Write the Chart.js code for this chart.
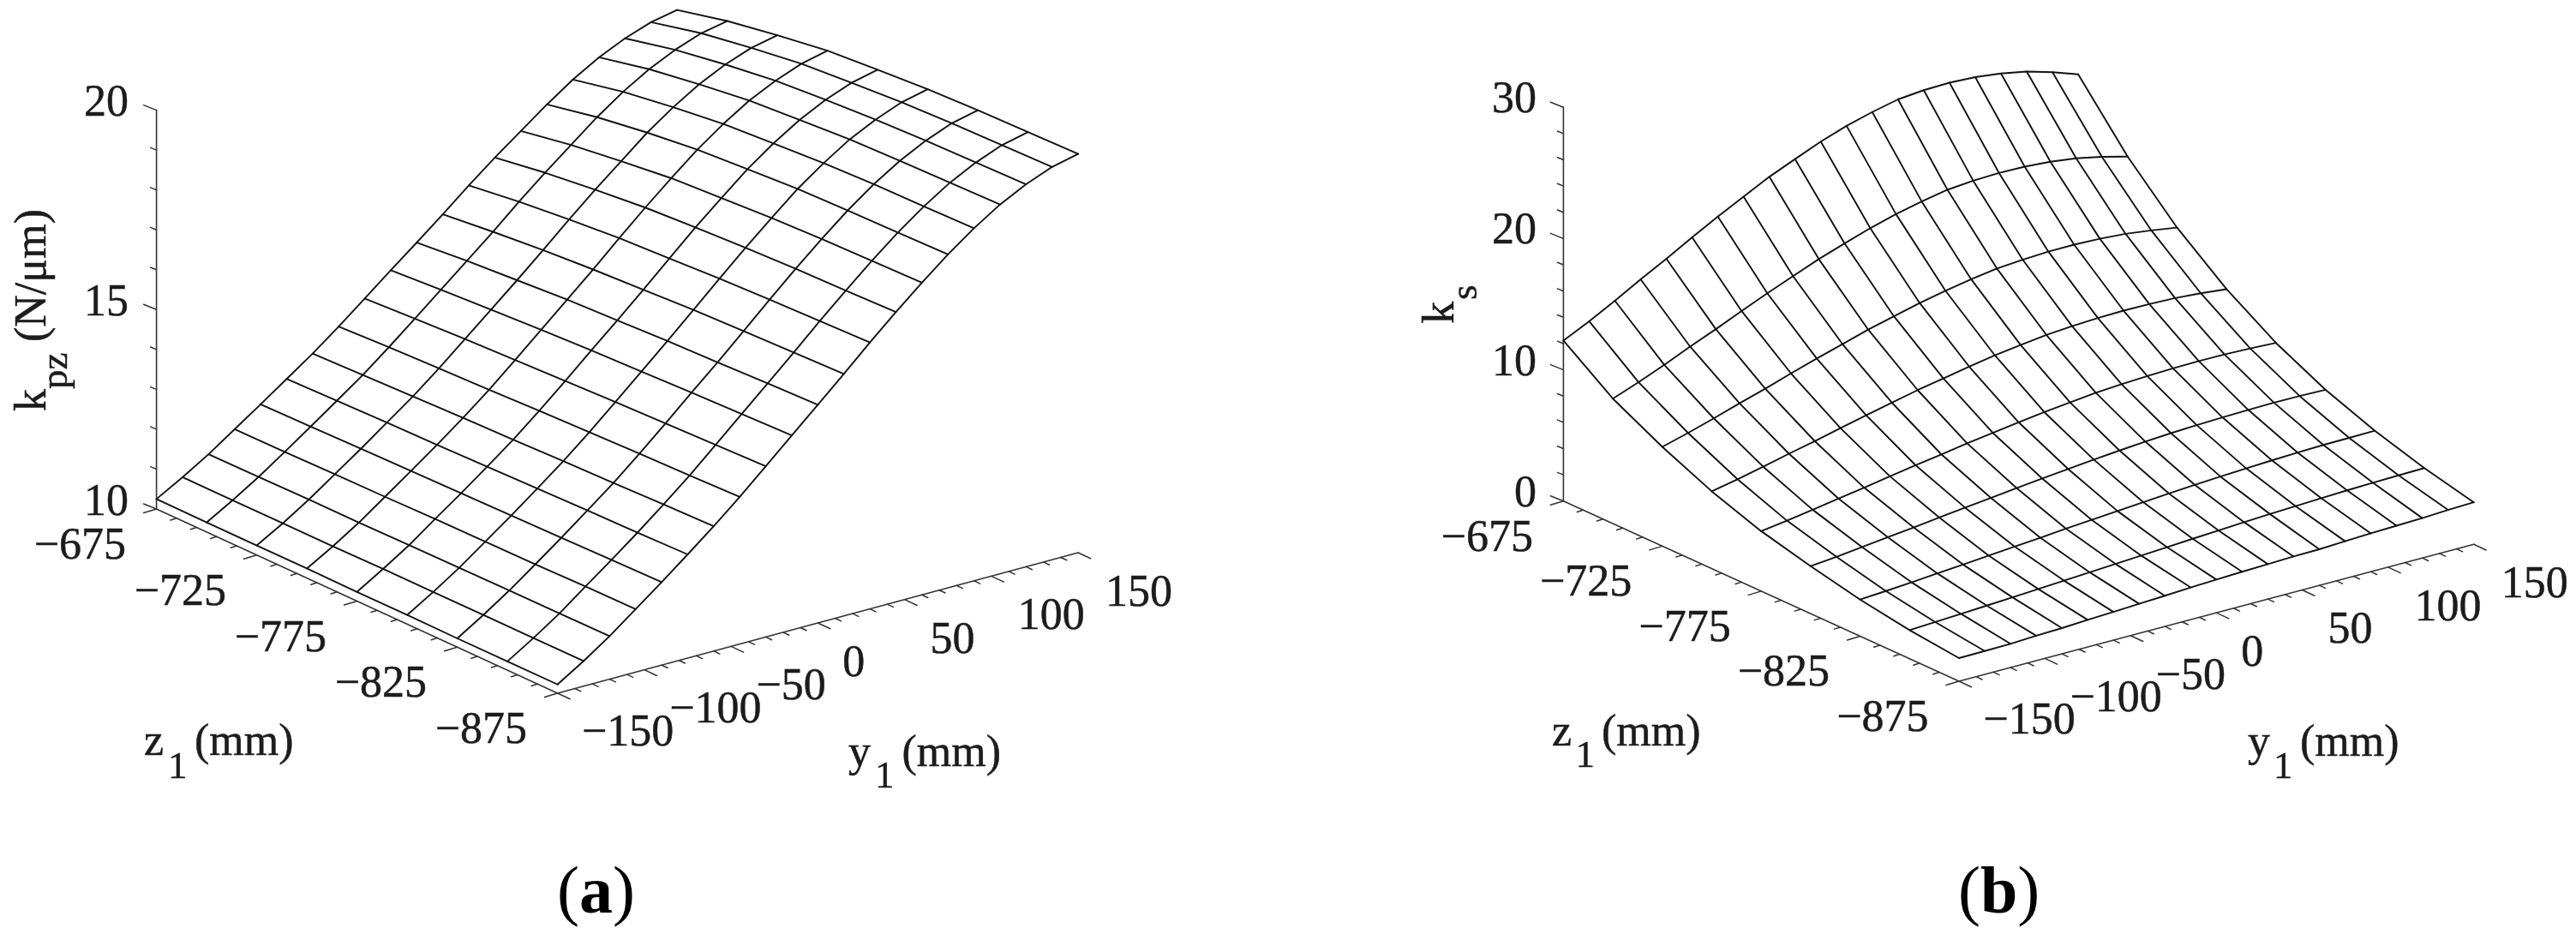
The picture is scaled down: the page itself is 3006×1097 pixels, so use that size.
<!DOCTYPE html>
<html>
<head>
<meta charset="utf-8">
<style>
html,body{margin:0;padding:0;background:#fff;}
#wrap{position:relative;width:3006px;height:1097px;background:#fff;overflow:hidden;}
canvas{position:absolute;top:0;display:block;}
#ca{left:0;} #cb{left:1503px;}
</style>
<script src="https://cdn.jsdelivr.net/npm/chart.js@4/dist/chart.umd.min.js"></script>
</head>
<body>
<div id="wrap">
<canvas id="ca" width="1503" height="1097"></canvas>
<canvas id="cb" width="1503" height="1097"></canvas>
</div>
<script>
// ---- data -----------------------------------------------------------------
const y1Values = [-150,-135,-120,-105,-90,-75,-60,-45,-30,-15,0,15,30,45,60,75,90,105,120,135,150];
const z1Values = [-675,-700,-725,-750,-775,-800,-825,-850,-875];

// one row per y1 value, one column per z1 value
const kpzRows = [
[10.25,10.24,10.24,10.24,10.23,10.23,10.22,10.22,10.22],
[10.62,10.62,10.62,10.62,10.63,10.63,10.63,10.63,10.63],
[11.02,11.03,11.04,11.04,11.05,11.06,11.07,11.07,11.08],
[11.47,11.48,11.50,11.51,11.53,11.54,11.55,11.57,11.58],
[11.92,11.94,11.96,11.98,12.00,12.02,12.04,12.06,12.08],
[12.38,12.41,12.44,12.46,12.49,12.52,12.55,12.57,12.60],
[12.84,12.88,12.92,12.96,12.99,13.03,13.06,13.10,13.13],
[13.34,13.40,13.45,13.49,13.54,13.58,13.62,13.65,13.69],
[13.87,13.94,14.01,14.06,14.11,14.16,14.20,14.24,14.28],
[14.40,14.49,14.57,14.64,14.70,14.75,14.80,14.84,14.88],
[14.92,15.04,15.13,15.22,15.28,15.34,15.38,15.43,15.47],
[15.45,15.59,15.71,15.80,15.87,15.94,15.99,16.03,16.07],
[16.00,16.17,16.30,16.41,16.48,16.55,16.60,16.64,16.68],
[16.52,16.72,16.87,17.00,17.08,17.15,17.20,17.23,17.27],
[17.01,17.24,17.41,17.56,17.64,17.72,17.77,17.80,17.83],
[17.50,17.76,17.95,18.10,18.19,18.27,18.31,18.33,18.36],
[17.95,18.22,18.41,18.57,18.66,18.74,18.79,18.81,18.84],
[18.33,18.61,18.81,18.98,19.07,19.16,19.20,19.23,19.26],
[18.63,18.92,19.13,19.30,19.40,19.48,19.53,19.56,19.59],
[18.86,19.16,19.37,19.55,19.65,19.74,19.79,19.82,19.85],
[18.99,19.29,19.51,19.70,19.80,19.89,19.94,19.97,20.00]
];
const ksRows = [
[12.23,9.52,7.56,5.89,4.57,3.62,2.79,2.18,1.76],
[13.18,10.25,8.10,6.29,4.85,3.81,2.92,2.27,1.78],
[14.22,11.05,8.69,6.72,5.16,4.03,3.06,2.37,1.81],
[15.33,11.92,9.32,7.19,5.49,4.26,3.22,2.48,1.90],
[16.37,12.73,9.91,7.63,5.80,4.48,3.37,2.59,1.96],
[17.48,13.59,10.55,8.10,6.14,4.72,3.53,2.70,2.07],
[18.54,14.42,11.16,8.56,6.46,4.95,3.70,2.82,2.15],
[19.54,15.20,11.74,8.99,6.77,5.17,3.85,2.93,2.25],
[20.53,15.98,12.32,9.43,7.09,5.40,4.02,3.05,2.34],
[21.36,16.65,12.81,9.80,7.36,5.60,4.17,3.16,2.45],
[22.17,17.29,13.30,10.18,7.65,5.81,4.32,3.28,2.53],
[22.85,17.84,13.72,10.51,7.90,6.00,4.47,3.40,2.60],
[23.38,18.28,14.07,10.78,8.12,6.17,4.61,3.51,2.66],
[23.82,18.65,14.37,11.03,8.33,6.33,4.75,3.62,2.72],
[24.00,18.82,14.52,11.17,8.46,6.45,4.86,3.72,2.75],
[24.05,18.89,14.61,11.27,8.56,6.54,4.96,3.80,2.84],
[23.95,18.85,14.62,11.31,8.63,6.61,5.05,3.88,2.92],
[23.71,18.70,14.55,11.29,8.66,6.66,5.12,3.96,2.98],
[23.33,18.44,14.40,11.22,8.65,6.69,5.18,4.02,3.04],
[22.76,18.03,14.14,11.07,8.58,6.67,5.20,4.06,3.14],
[22.08,17.53,13.83,10.86,8.48,6.63,5.22,4.09,3.20]
];

const zTickLabels = [-675,-725,-775,-825,-875];
const yTickLabels = [-150,-100,-50,0,50,100,150];
const kpzTickLabels = [10,15,20];
const ksTickLabels = [0,10,20,30];

// ---- layout (projection of the 3-D box onto the page) ----------------------
const INK = '#1c1c1c', SERIF = '"Liberation Serif","Times New Roman",serif', FS = 52;
const yLabelOffsets = [[82,61],[83,61.5],[70,62],[42,62],[56,62],[70,62],[71,62]];

const panels = {
  a:{ id:'ca', xMin:0, rows:kpzRows, kMin:10, kMax:20, kMinor:1, kTicks:kpzTickLabels,
      o:[182.6,594], ey:[607.5,-164], ez:[468,215], kUnit:46.54, kRight:150, kDy:6.5,
      draw(t){
        t.sub(['z',168,881],['1',196,908],['(mm)',227,881]);
        t.sub(['y',990,893.5],['1',1021,918.5],['(mm)',1052.5,893.5]);
        t.rot('k',52.7,480,FS); t.rot('pz',78,454,45); t.rot('(N/μm)',52.7,399,FS);
        t.cap('a',650);
      }},
  b:{ id:'cb', xMin:1503, rows:ksRows, kMin:0, kMax:30, kMinor:2, kTicks:ksTickLabels,
      o:[1824.4,584.8], ey:[600.7,-159.8], ez:[461.6,210.2], kUnit:15.32, kRight:1793, kDy:6,
      draw(t){
        t.sub(['z',1811,869.6],['1',1838.5,895],['(mm)',1869,869.6]);
        t.sub(['y',2623,881.7],['1',2653,907.6],['(mm)',2684,881.7]);
        t.rot('k',1695.8,377.7,FS); t.rot('s',1722.6,350,45);
        t.cap('b',2285);
      }}
};

function project(p,y,z,k){
  const u=(y+150)/300, v=(-675-z)/200;
  return { x:p.o[0]+u*p.ey[0]+v*p.ez[0],
           y:p.o[1]+u*p.ey[1]+v*p.ez[1]-(k-p.kMin)*p.kUnit };
}
const neg = v => (v<0?'\u2212'+(-v):String(v));

function line(points,width,color){
  return {type:'scatter',showLine:true,data:points,borderColor:color,borderWidth:width,
          pointRadius:0,pointHoverRadius:0,tension:0,fill:false,borderCapStyle:'round',borderJoinStyle:'round'};
}

function buildDatasets(p){
  const ds=[];
  // mesh: lines of constant y1 and lines of constant z1
  p.rows.forEach((row,i)=>ds.push(line(row.map((k,j)=>project(p,y1Values[i],z1Values[j],k)),1.9,'#111')));
  z1Values.forEach((z,j)=>ds.push(line(p.rows.map((row,i)=>project(p,y1Values[i],z,row[j])),1.9,'#111')));
  // axes
  const lo=p.kMin;
  ds.push(line([project(p,-150,-675,p.kMax),project(p,-150,-675,lo)],1.6,'#333'));
  ds.push(line([project(p,-150,-675,lo),project(p,-150,-875,lo)],1.6,'#333'));
  ds.push(line([project(p,-150,-875,lo),project(p,150,-875,lo)],1.6,'#333'));
  const off=(q,dx,dy)=>({x:q.x+dx,y:q.y+dy});
  // k ticks
  for(let k=p.kMin;k<=p.kMax+1e-6;k+=p.kMinor){
    const major=p.kTicks.includes(k), q=project(p,-150,-675,k);
    ds.push(line([q,major?off(q,-15,-6):off(q,-7,-2.8)],1.5,'#333'));
  }
  // z ticks
  for(let z=-675;z>=-875;z-=10){
    const major=zTickLabels.includes(z), q=project(p,-150,z,lo);
    ds.push(line([q,major?off(q,-15,4.5):off(q,-7,2.2)],1.5,'#333'));
  }
  // y ticks
  for(let y=-150;y<=150;y+=10){
    const major=yTickLabels.includes(y), q=project(p,y,-875,lo);
    ds.push(line([q,major?off(q,14.5,6.8):off(q,7,3.3)],1.5,'#333'));
  }
  return ds;
}

const textPlugin={
  id:'axisText',
  afterDraw(chart,args,opts){
    const p=opts.panel, c=chart.ctx, sx=chart.scales.x, sy=chart.scales.y;
    const X=v=>sx.getPixelForValue(v), Y=v=>sy.getPixelForValue(v);
    const put=(s,x,y,size,align,weight)=>{
      c.font=(weight||'')+' '+size+'px '+SERIF; c.textAlign=align||'left'; c.textBaseline='alphabetic';
      c.fillStyle=INK; c.strokeStyle=INK; c.lineWidth=0.5;
      c.fillText(s,X(x),Y(y)); c.strokeText(s,X(x),Y(y));
    };
    c.save();
    // k tick labels
    p.kTicks.forEach(k=>{ const q=project(p,-150,-675,k); put(String(k),p.kRight,q.y+p.kDy,FS,'right'); });
    // z tick labels
    zTickLabels.forEach(z=>{ const q=project(p,-150,z,p.kMin); put(neg(z),q.x-35.5,q.y+58,FS,'right'); });
    // y tick labels
    yTickLabels.forEach((y,n)=>{ const q=project(p,y,-875,p.kMin);
      put(neg(y),q.x+yLabelOffsets[n][0],q.y+yLabelOffsets[n][1],FS,'center'); });
    // titles and caption
    p.draw({
      sub(a,b,d){ put(a[0],a[1],a[2],FS); put(b[0],b[1],b[2],45); put(d[0],d[1],d[2],FS); },
      rot(s,x,y,size){
        c.save(); c.translate(X(x),Y(y)); c.rotate(-Math.PI/2);
        c.font=size+'px '+SERIF; c.textAlign='left'; c.textBaseline='alphabetic';
        c.fillStyle=INK; c.strokeStyle=INK; c.lineWidth=0.5;
        c.fillText(s,0,0); c.strokeText(s,0,0); c.restore();
      },
      cap(letter,x){
        const size=78;
        c.fillStyle='#000'; c.textBaseline='alphabetic'; c.textAlign='left';
        c.font=size+'px '+SERIF; const w1=c.measureText('(').width;
        c.fillText('(',X(x),Y(1065));
        c.font='bold '+size+'px '+SERIF; const w2=c.measureText(letter).width;
        c.fillText(letter,X(x)+w1,Y(1065));
        c.font=size+'px '+SERIF; c.fillText(')',X(x)+w1+w2,Y(1065));
      }
    });
    c.restore();
  }
};

Object.values(panels).forEach(p=>{
  new Chart(document.getElementById(p.id),{
    type:'scatter',
    data:{datasets:buildDatasets(p)},
    options:{
      responsive:false,animation:false,events:[],
      layout:{padding:0},
      plugins:{legend:{display:false},tooltip:{enabled:false},axisText:{panel:p}},
      scales:{
        x:{type:'linear',display:false,min:p.xMin,max:p.xMin+1503},
        y:{type:'linear',display:false,min:0,max:1097,reverse:true}
      }
    },
    plugins:[textPlugin]
  });
});
</script>
</body>
</html>
